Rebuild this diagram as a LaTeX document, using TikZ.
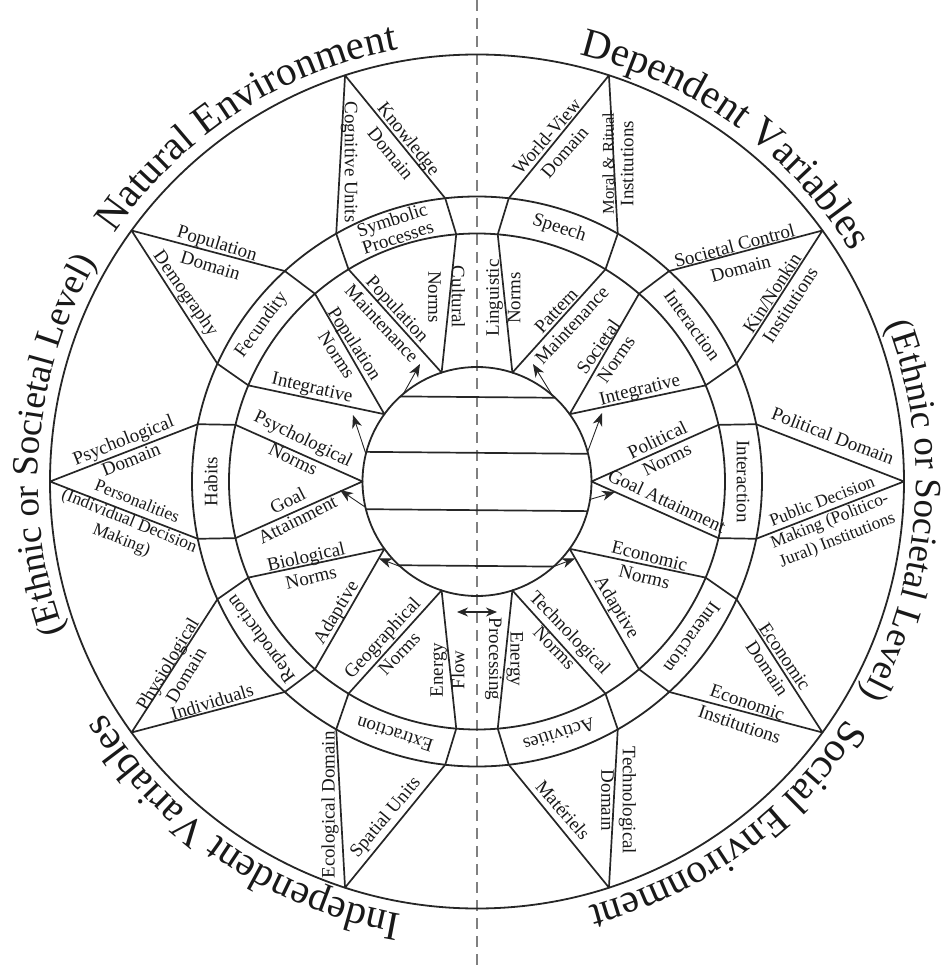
\documentclass[tikz,border=0pt]{standalone}
\usepackage{fontspec}
\setmainfont{Liberation Serif}
\usetikzlibrary{arrows.meta,decorations.text}

\newcommand\rimfont{\fontsize{41}{41}\selectfont}
\newcommand\sidefont{\fontsize{37}{37}\selectfont}

\begin{document}
\begin{tikzpicture}[
    x=1pt, y=1pt,
    ring/.style={draw=black!85, line width=1.8pt},
    spoke/.style={draw=black!85, line width=1.7pt, line join=round},
    divider/.style={draw=black!50, line width=1.2pt, dash pattern=on 11pt off 7pt},
    flow/.style={-{Stealth[length=13pt, width=10pt, inset=4pt]}, line width=0.9pt, black!85},
    twoway/.style={{Stealth[length=11pt, width=9pt, inset=3.5pt]}-{Stealth[length=11pt, width=9pt, inset=3.5pt]}, line width=1.1pt, black!85},
    lbl/.style={font=\fontsize{19}{21.5}\selectfont, align=center, inner sep=0pt, text=black!90},
    lblthree/.style={lbl, font=\fontsize{17.5}{20.5}\selectfont},
    band/.style={lbl, font=\fontsize{19}{18.5}\selectfont},
    rim/.style={decorate, decoration={text along path, text align=center, text color=black!90}},
]
    \useasboundingbox (-477,-490.5) rectangle (471,481.5);

    % Vertical dividing axis
    \coordinate (axtop) at (0,481.5);
    \coordinate (axbot) at (0,-490.5);
    \draw[divider] (axtop) -- (axbot);

    % Rings
    \node[ring, circle, minimum size=854pt, inner sep=0pt, outer sep=0pt] (outer) at (0,0) {};
    \node[ring, circle, minimum size=570pt, inner sep=0pt, outer sep=0pt] (bandout) at (0,0) {};
    \node[ring, circle, minimum size=496pt, inner sep=0pt, outer sep=0pt] (bandin) at (0,0) {};
    \node[ring, circle, minimum size=229pt, inner sep=0pt, outer sep=0pt] (core) at (0,0) {};

    % Chords of the core
    \draw[spoke] (core.47.94) -- (core.132.06);
    \draw[spoke] (core.14.15) -- (core.165.85);
    \draw[spoke] (core.194.15) -- (core.345.85);
    \draw[spoke] (core.227.94) -- (core.312.06);

    % Sector points
    \foreach \k in {0,...,9} {
        \pgfmathsetmacro\a{36*\k}
        \coordinate (out\k) at (\a:427);
        \coordinate (pa\k) at ({\a+11.6}:285);
        \coordinate (pb\k) at ({\a-11.6}:285);
        \coordinate (qa\k) at ({\a+13.2}:248);
        \coordinate (qb\k) at ({\a-13.2}:248);
        \coordinate (in\k) at (\a:114.5);
    }

    % Sector outlines
    \foreach \k in {0,...,9}
        \draw[spoke] (pa\k) -- (out\k) -- (pb\k) -- (qb\k) -- (in\k) -- (qa\k) -- cycle;

    % Rim titles
    \path[rim, decoration={text={|\rimfont|Natural Environment}}] (163:439) arc[start angle=163, end angle=83, radius=439pt];
    \path[rim, decoration={text={|\rimfont|Dependent Variables}}] (94:439) arc[start angle=94, end angle=14, radius=439pt];
    \path[rim, decoration={text={|\sidefont|(Ethnic or Societal Level)}}] (36:439) arc[start angle=36, end angle=-44, radius=439pt];
    \path[rim, decoration={text={|\rimfont|Social Environment}}] (346:439) arc[start angle=346, end angle=266, radius=439pt];
    \path[rim, decoration={text={|\rimfont|Independent Variables}}] (276:439) arc[start angle=276, end angle=196, radius=439pt];
    \path[rim, decoration={text={|\sidefont|(Ethnic or Societal Level)}}] (215:439) arc[start angle=215, end angle=135, radius=439pt];

    % Band
    \node[band, rotate=-90] (bnd0) at (0:266) {Interaction};
    \node[band, rotate=-54] (bnd1) at (36:266) {Interaction};
    \node[band, rotate=-18] (bnd2) at (72:266) {Speech};
    \node[band, rotate=18] (bnd3) at (108:266) {Symbolic\\Processes};
    \node[band, rotate=54] (bnd4) at (144:266) {Fecundity};
    \node[band, rotate=90] (bnd5) at (180:266) {Habits};
    \node[band, rotate=126] (bnd6) at (216:266) {Reproduction};
    \node[band, rotate=162] (bnd7) at (252:266) {Extraction};
    \node[band, rotate=198] (bnd8) at (288:266) {Activities};
    \node[band, rotate=234] (bnd9) at (324:266) {Interaction};

    % Domains
    \node[lbl, rotate=-51] (knowl) at (-77,335.5) {Knowledge\\[2pt]Domain};
    \node[lbl, rotate=-90] (cogn) at (-128,319.5) {Cognitive Units};
    \node[lbl, rotate=49] (wview) at (78.5,337.5) {World-View\\[2pt]Domain};
    \node[lbl, rotate=90] (moral) at (141,318) {{\fontsize{16.5}{21.5}\selectfont Moral \& Ritual}\\[-2pt]Institutions};
    \node[lbl, rotate=-17] (popd) at (-263,227.5) {Population\\[2pt]Domain};
    \node[lbl, rotate=-55] (demog) at (-292,187.5) {Demography};
    \node[lbl, rotate=21.5] (psyd) at (-350,32) {Psychological\\Domain};
    \node[lblthree, rotate=-22] (pers) at (-348,-40) {Personalities\\(Individual Decision\\Making)};
    \node[lbl, rotate=15] (socd) at (260.5,224.5) {Societal Control\\[2pt]Domain};
    \node[lbl, rotate=57] (kin) at (304,182.5) {Kin/Nonkin\\Institutions};
    \node[lbl, rotate=-21] (pold) at (356,45.5) {Political Domain};
    \node[lblthree, rotate=21.5] (pubd) at (353,-40) {Public Decision\\Making (Politico-\\Jural) Institutions};
    \node[lbl, rotate=59] (phyd) at (-300.5,-188) {Physiological\\Domain};
    \node[lbl, rotate=17] (indiv) at (-265,-220.5) {Individuals};
    \node[lbl, rotate=-56] (ecod) at (299,-181) {Economic\\Domain};
    \node[lbl, rotate=-19] (ecoi) at (266.5,-232) {Economic\\[2pt]Institutions};
    \node[lbl, rotate=90] (ecol) at (-147,-323.5) {Ecological Domain};
    \node[lbl, rotate=50] (spat) at (-91,-336.5) {Spatial Units};
    \node[lbl, rotate=-90] (techd) at (141.5,-319) {Technological\\Domain};
    \node[lbl, rotate=-49] (mater) at (86,-328.5) {Matériels};

    % Norms
    \node[lbl, rotate=-90] (cult) at (-30.5,184.5) {Cultural\\[2pt]Norms};
    \node[lbl, rotate=90] (ling) at (26.5,183.5) {Linguistic\\Norms};
    \node[lbl, rotate=-47] (popm) at (-87,165.5) {Population\\Maintenance};
    \node[lbl, rotate=47] (patm) at (87,163.5) {Pattern\\Maintenance};
    \node[lbl, rotate=-57] (popn) at (-131,132.5) {Population\\Norms};
    \node[lbl, rotate=55] (socn) at (130,128.5) {Societal\\Norms};
    \node[lbl, rotate=-13] (integl) at (-165,92.5) {Integrative};
    \node[lbl, rotate=14] (integr) at (163,90.5) {Integrative};
    \node[lbl, rotate=-26] (psyn) at (-178.5,33) {Psychological\\[2pt]Norms};
    \node[lbl, rotate=26] (poln) at (185,32) {Political\\Norms};
    \node[lbl, rotate=27] (goall) at (-184.5,-28.5) {Goal\\Attainment};
    \node[lbl, rotate=-25] (goalr) at (190,-19.5) {Goal Attainment};
    \node[lbl, rotate=13] (biol) at (-168.5,-85.5) {Biological\\Norms};
    \node[lbl, rotate=-14] (econ) at (170,-85) {Economic\\Norms};
    \node[lbl, rotate=59] (adapl) at (-140,-131.5) {Adaptive};
    \node[lbl, rotate=-59] (adapr) at (139,-126.5) {Adaptive};
    \node[lbl, rotate=47] (geog) at (-86.5,-164) {Geographical\\[2pt]Norms};
    \node[lbl, rotate=-46] (techn) at (85.5,-158.5) {Technological\\Norms};
    \node[lbl, rotate=90] (enfl) at (-29.5,-188.5) {Energy\\Flow};
    \node[lbl, rotate=-90] (enpr) at (27,-177.5) {Energy\\Processing};

    % Arrows off the core
    \coordinate (tipa) at (-57,117.5);
    \coordinate (tipb) at (56,117.5);
    \coordinate (tipc) at (125,68.5);
    \coordinate (tipd) at (138,-10.5);
    \coordinate (tipe) at (-124,66.5);
    \coordinate (tipf) at (-137,-8.5);
    \coordinate (tipg) at (-98,-77);
    \coordinate (tiph) at (98,-77);
    \draw[flow] (core.130) -- (tipa);
    \draw[flow] (core.49) -- (tipb);
    \draw[flow] (core.15) -- (tipc);
    \draw[flow] (core.351) -- (tipd);
    \draw[flow] (core.166) -- (tipe);
    \draw[flow] (core.193) -- (tipf);
    \draw[flow] (core.228) -- (tipg);
    \draw[flow] (core.312) -- (tiph);

    % Energy exchange
    \coordinate (exl) at (-20,-130.5);
    \coordinate (exr) at (20,-130.5);
    \draw[twoway] (exl) -- (exr);
\end{tikzpicture}
\end{document}
